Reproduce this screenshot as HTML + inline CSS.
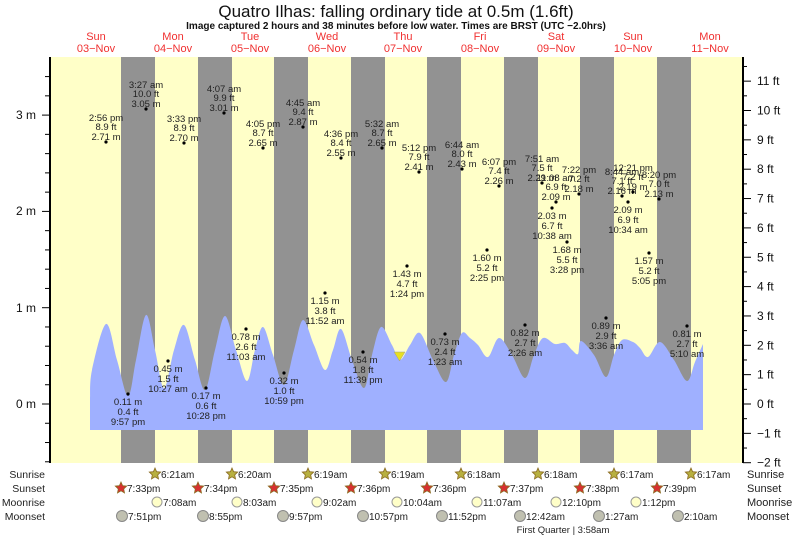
<!DOCTYPE html>
<html><head><meta charset="utf-8"><style>
html,body{margin:0;padding:0;background:#fff;}
svg{display:block;font-family:"Liberation Sans",sans-serif;}
</style></head><body>
<svg id="s" width="793" height="537" viewBox="0 0 793 537" xmlns="http://www.w3.org/2000/svg">
<text x="396" y="17" font-size="17" text-anchor="middle" fill="#111">Quatro Ilhas: falling  ordinary tide at 0.5m (1.6ft)</text>
<text x="396" y="29" font-size="10" font-weight="bold" text-anchor="middle" fill="#111">Image captured 2 hours and 38 minutes before low water. Times are BRST (UTC −2.0hrs)</text>
<g font-size="11" fill="#f03030" text-anchor="middle">
<text x="96" y="40">Sun</text><text x="96" y="52">03−Nov</text>
<text x="173" y="40">Mon</text><text x="173" y="52">04−Nov</text>
<text x="250" y="40">Tue</text><text x="250" y="52">05−Nov</text>
<text x="327" y="40">Wed</text><text x="327" y="52">06−Nov</text>
<text x="403" y="40">Thu</text><text x="403" y="52">07−Nov</text>
<text x="480" y="40">Fri</text><text x="480" y="52">08−Nov</text>
<text x="556" y="40">Sat</text><text x="556" y="52">09−Nov</text>
<text x="633" y="40">Sun</text><text x="633" y="52">10−Nov</text>
<text x="710" y="40">Mon</text><text x="710" y="52">11−Nov</text>
</g>
<rect x="50" y="57" width="693" height="406" fill="#ffffc8"/>
<g fill="#929292">
<rect x="121" y="57" width="34" height="406"/><rect x="198" y="57" width="34" height="406"/>
<rect x="274" y="57" width="34" height="406"/><rect x="351" y="57" width="34" height="406"/>
<rect x="427" y="57" width="34" height="406"/><rect x="504" y="57" width="34" height="406"/>
<rect x="580" y="57" width="34" height="406"/><rect x="657" y="57" width="34" height="406"/>
</g>
<path id="water" fill="#9fb0ff" d=""/>
<polygon points="394,352 405,352 399.5,361" fill="#e8e020" stroke="#999" stroke-width="0.5"/>
<line x1="50" y1="57" x2="50" y2="463" stroke="#000" stroke-width="2"/>
<line x1="743" y1="57" x2="743" y2="463" stroke="#000" stroke-width="2"/>
<g id="ticks" stroke="#000" stroke-width="1"></g>
<g font-size="12" fill="#111" text-anchor="end">
<text x="36" y="119">3 m</text><text x="36" y="215">2 m</text><text x="36" y="312">1 m</text><text x="36" y="408">0 m</text>
</g>
<g id="ft" font-size="12" fill="#111"></g>
<g id="labels" font-size="9.5" fill="#222" text-anchor="middle"></g>
<g font-size="10.5" fill="#222" text-anchor="end">
<text x="45" y="478">Sunrise</text><text x="45" y="492">Sunset</text><text x="45" y="506">Moonrise</text><text x="45" y="520">Moonset</text>
</g>
<g font-size="11" fill="#222">
<text x="747" y="478">Sunrise</text><text x="747" y="492">Sunset</text><text x="747" y="506">Moonrise</text><text x="747" y="520">Moonset</text>
</g>
<g id="astro" font-size="10" fill="#222"></g>
<text x="563" y="533" font-size="9.5" fill="#222" text-anchor="middle">First Quarter | 3:58am</text>
</svg>
<script>
var NS="http://www.w3.org/2000/svg";
function el(p,t,a,txt){var e=document.createElementNS(NS,t);for(var k in a)e.setAttribute(k,a[k]);if(txt!=null)e.textContent=txt;p.appendChild(e);return e;}
var pts=[[90,398],[92,370],[106,324],[117,360],[128,396],[136,360],[146,315],[155,350],[164,388],[174,350],[184,325],[195,360],[205,390],[215,350],[225,316],[236,350],[247,381],[255,350],[263,327],[273,355],[284,385],[294,350],[303,320],[314,345],[325,370],[333,350],[341,329],[352,360],[364,388],[372,355],[381,327],[392,345],[400,360],[410,345],[420,333],[433,360],[446,382],[454,355],[462,333],[470,338],[478,345],[488,357],[499,338],[512,355],[525,378],[534,355],[543,338],[555,344],[565,343],[572,350],[578,354],[581,341],[594,355],[606,377],[614,355],[622,340],[633,342],[640,348],[648,357],[660,342],[674,360],[687,381],[695,362],[703,344]];
var d="M90,430 L"+pts[0][0]+","+pts[0][1];
for(var i=0;i<pts.length-1;i++){var p0=pts[Math.max(i-1,0)],p1=pts[i],p2=pts[i+1],p3=pts[Math.min(i+2,pts.length-1)];
d+=" C"+(p1[0]+(p2[0]-p0[0])/6).toFixed(1)+","+(p1[1]+(p2[1]-p0[1])/6).toFixed(1)+" "+(p2[0]-(p3[0]-p1[0])/6).toFixed(1)+","+(p2[1]-(p3[1]-p1[1])/6).toFixed(1)+" "+p2[0]+","+p2[1];}
d+=" L703,430 Z";document.getElementById("water").setAttribute("d",d);
var tk=document.getElementById("ticks");
for(var m=-0.6;m<=3.6;m+=0.2){var y=404-m*96.3;if(y<57||y>463)continue;var maj=Math.abs(m-Math.round(m))<0.01;el(tk,"line",{x1:maj?42:45,x2:50,y1:y,y2:y});}
var ft=document.getElementById("ft");
for(var f=-2;f<=11.5;f+=0.5){var y=404-f*29.35;if(y<57||y>463.5)continue;var maj=Math.abs(f-Math.round(f))<0.01;el(tk,"line",{x1:743,x2:maj?751:747,y1:y,y2:y});if(maj)el(ft,"text",{x:757,y:y+4},(f<0?"−"+(-f):f)+" ft");}
var L=document.getElementById("labels");
function hi(x,y,a,b,c){el(L,"circle",{cx:x,cy:y,r:1.6,fill:"#000"});el(L,"text",{x:x,y:y-21},a);el(L,"text",{x:x,y:y-12},b);el(L,"text",{x:x,y:y-2},c);}
function lo(x,y,a,b,c){el(L,"circle",{cx:x,cy:y,r:1.6,fill:"#000"});el(L,"text",{x:x,y:y+11},a);el(L,"text",{x:x,y:y+21},b);el(L,"text",{x:x,y:y+31},c);}
hi(106,142,"2:56 pm","8.9 ft","2.71 m");hi(146,109,"3:27 am","10.0 ft","3.05 m");hi(184,143,"3:33 pm","8.9 ft","2.70 m");hi(224,113,"4:07 am","9.9 ft","3.01 m");
hi(263,148,"4:05 pm","8.7 ft","2.65 m");hi(303,127,"4:45 am","9.4 ft","2.87 m");hi(341,158,"4:36 pm","8.4 ft","2.55 m");hi(382,148,"5:32 am","8.7 ft","2.65 m");
hi(419,172,"5:12 pm","7.9 ft","2.41 m");hi(462,169,"6:44 am","8.0 ft","2.43 m");hi(499,186,"6:07 pm","7.4 ft","2.26 m");hi(542,183,"7:51 am","7.5 ft","2.29 m");
hi(556,202,"11:08 am","6.9 ft","2.09 m");hi(579,194,"7:22 pm","7.2 ft","2.18 m");hi(622,196,"8:44 am","7.1 ft","2.16 m");hi(633,192,"12:21 pm","7.2 ft","2.19 m");hi(659,199,"8:20 pm","7.0 ft","2.13 m");
lo(325,293,"1.15 m","3.8 ft","11:52 am");lo(407,266,"1.43 m","4.7 ft","1:24 pm");lo(487,250,"1.60 m","5.2 ft","2:25 pm");lo(552,208,"2.03 m","6.7 ft","10:38 am");
lo(567,242,"1.68 m","5.5 ft","3:28 pm");lo(628,202,"2.09 m","6.9 ft","10:34 am");lo(649,253,"1.57 m","5.2 ft","5:05 pm");
lo(128,394,"0.11 m","0.4 ft","9:57 pm");lo(168,361,"0.45 m","1.5 ft","10:27 am");lo(206,388,"0.17 m","0.6 ft","10:28 pm");lo(246,329,"0.78 m","2.6 ft","11:03 am");
lo(284,373,"0.32 m","1.0 ft","10:59 pm");lo(363,352,"0.54 m","1.8 ft","11:39 pm");lo(445,334,"0.73 m","2.4 ft","1:23 am");lo(525,325,"0.82 m","2.7 ft","2:26 am");
lo(606,318,"0.89 m","2.9 ft","3:36 am");lo(687,326,"0.81 m","2.7 ft","5:10 am");
var A=document.getElementById("astro");
function star(cx,cy,fill){var s="";for(var i=0;i<10;i++){var r=i%2?2.8:6,a=Math.PI*i/5-Math.PI/2;s+=(cx+r*Math.cos(a)).toFixed(1)+","+(cy+r*Math.sin(a)).toFixed(1)+" ";}el(A,"polygon",{points:s,fill:fill,stroke:"#8a6a20","stroke-width":0.8});}
var sr=[[155,"6:21am"],[232,"6:20am"],[308,"6:19am"],[385,"6:19am"],[461,"6:18am"],[538,"6:18am"],[614,"6:17am"],[691,"6:17am"]];
sr.forEach(function(s){star(s[0],474,"#b8b040");el(A,"text",{x:s[0]+6,y:478},s[1]);});
var ss=[[121,"7:33pm"],[198,"7:34pm"],[274,"7:35pm"],[351,"7:36pm"],[427,"7:36pm"],[504,"7:37pm"],[580,"7:38pm"],[657,"7:39pm"]];
ss.forEach(function(s){star(s[0],488,"#d83030");el(A,"text",{x:s[0]+6,y:492},s[1]);});
var mr=[[157,"7:08am"],[237,"8:03am"],[317,"9:02am"],[397,"10:04am"],[477,"11:07am"],[556,"12:10pm"],[636,"1:12pm"]];
mr.forEach(function(s){el(A,"circle",{cx:s[0],cy:502,r:5,fill:"#ffffc8",stroke:"#999"});el(A,"text",{x:s[0]+6,y:506},s[1]);});
var ms=[[122,"7:51pm"],[203,"8:55pm"],[283,"9:57pm"],[363,"10:57pm"],[442,"11:52pm"],[520,"12:42am"],[599,"1:27am"],[678,"2:10am"]];
ms.forEach(function(s){el(A,"circle",{cx:s[0],cy:516,r:5.5,fill:"#c0c0b0",stroke:"#888"});el(A,"text",{x:s[0]+6,y:520},s[1]);});
</script>
</body></html>
